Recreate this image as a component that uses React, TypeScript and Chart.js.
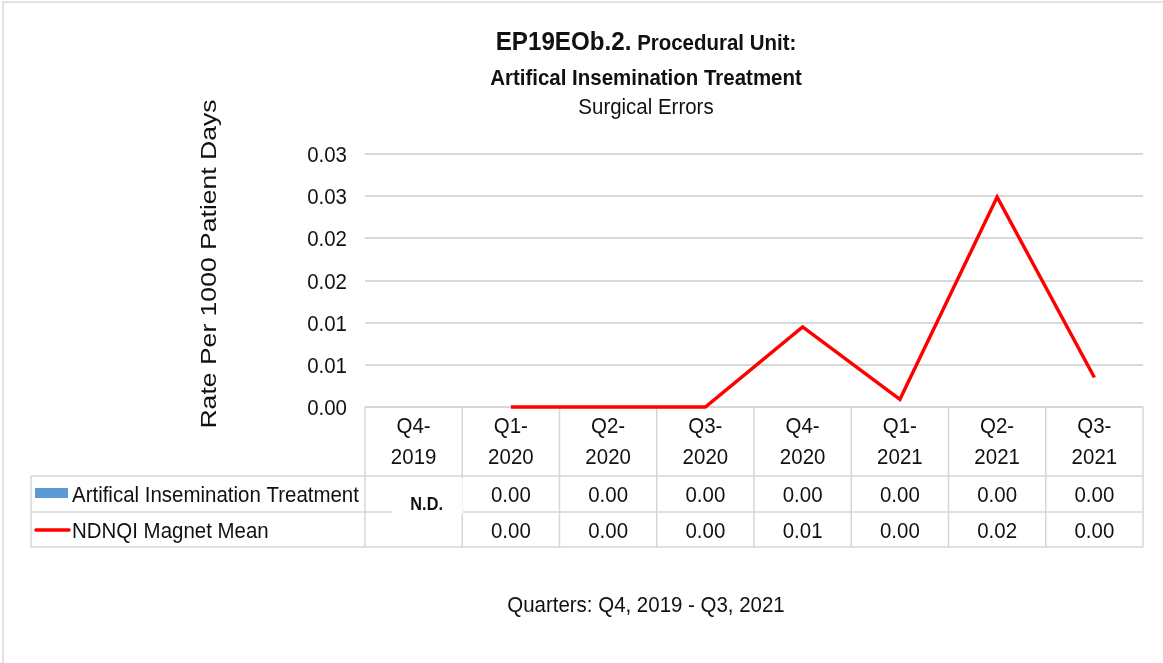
import React, { useEffect, useRef } from "react";
import { Chart, registerables } from "chart.js";

Chart.register(...registerables);

const categories = ["Q4-2019", "Q1-2020", "Q2-2020", "Q3-2020", "Q4-2020", "Q1-2021", "Q2-2021", "Q3-2021"];
const treatmentValues: (number | null)[] = [null, 0, 0, 0, 0, 0, 0, 0];
const magnetMeanValues: (number | null)[] = [null, 0, 0, 0, 0.0095, 0.0009, 0.0249, 0.0035];
const seriesNames = ["Artifical Insemination Treatment", "NDNQI Magnet Mean"];
const yTickValues = [0, 0.005, 0.01, 0.015, 0.02, 0.025, 0.03];
const yTickLabels = ["0.00", "0.01", "0.01", "0.02", "0.02", "0.03", "0.03"];
const titleCode = "EP19EOb.2.";
const titleUnit = " Procedural Unit:";
const titleLine2 = "Artifical Insemination Treatment";
const titleLine3 = "Surgical Errors";
const yAxisTitle = "Rate Per 1000 Patient Days";
const xAxisTitle = "Quarters: Q4, 2019 - Q3, 2021";
const missingLabel = "N.D.";

const FONT = '"Liberation Sans", Arial, sans-serif';
const SX = 0.93;
const TEXT = "#111111";
const LINE = "#d6d6d6";

function font(size: number, bold = false) {
  return `${bold ? "bold " : ""}${size}px ${FONT}`;
}

function txt(
  ctx: CanvasRenderingContext2D,
  s: string,
  x: number,
  y: number,
  size: number,
  opts: { bold?: boolean; align?: CanvasTextAlign; sx?: number; rot?: number } = {}
) {
  ctx.save();
  ctx.translate(x, y);
  if (opts.rot) ctx.rotate(opts.rot);
  ctx.scale(opts.sx ?? SX, 1);
  ctx.font = font(size, opts.bold);
  ctx.fillStyle = TEXT;
  ctx.textAlign = opts.align ?? "center";
  ctx.textBaseline = "alphabetic";
  ctx.fillText(s, 0, 0);
  ctx.restore();
}

function tableGeom(chart: any) {
  const xs = chart.scales.x;
  const area = chart.chartArea;
  const half = (xs.getPixelForValue(1) - xs.getPixelForValue(0)) / 2;
  const left = xs.getPixelForValue(0) - half;
  const right = xs.getPixelForValue(categories.length - 1) + half;
  const top = area.bottom;
  const hdrBottom = top + 69;
  const r1Bottom = hdrBottom + 36;
  const r2Bottom = r1Bottom + 35;
  return { xs, area, half, left, right, top, hdrBottom, r1Bottom, r2Bottom, legLeft: 31 };
}

const decorPlugin = {
  id: "decor",
  beforeDraw(chart: any) {
    const ctx: CanvasRenderingContext2D = chart.ctx;
    ctx.save();
    ctx.fillStyle = "#ffffff";
    ctx.fillRect(0, 0, chart.width, chart.height);
    ctx.strokeStyle = "#e2e2e2";
    ctx.lineWidth = 2;
    ctx.strokeRect(3, 2, chart.width + 20, chart.height + 20);
    ctx.restore();
  },
  beforeDatasetsDraw(chart: any) {
    const ctx: CanvasRenderingContext2D = chart.ctx;
    const g = tableGeom(chart);
    ctx.save();
    ctx.strokeStyle = LINE;
    ctx.lineWidth = 1.5;
    ctx.beginPath();
    for (let i = 0; i <= categories.length; i++) {
      const bx = g.left + i * g.half * 2;
      ctx.moveTo(bx, g.top);
      ctx.lineTo(bx, g.r2Bottom);
    }
    ctx.moveTo(g.left, g.top);
    ctx.lineTo(g.right, g.top);
    [g.hdrBottom, g.r1Bottom, g.r2Bottom].forEach((yy) => {
      ctx.moveTo(g.legLeft, yy);
      ctx.lineTo(g.right, yy);
    });
    ctx.moveTo(g.legLeft, g.hdrBottom);
    ctx.lineTo(g.legLeft, g.r2Bottom);
    ctx.stroke();
    ctx.restore();
  },
  afterDraw(chart: any) {
    const ctx: CanvasRenderingContext2D = chart.ctx;
    const ys = chart.scales.y;
    const g = tableGeom(chart);
    const xs = g.xs;

    // Titles
    ctx.save();
    ctx.font = font(26, true);
    const w1 = ctx.measureText(titleCode).width * SX;
    ctx.font = font(22, true);
    const w2 = ctx.measureText(titleUnit).width * SX;
    ctx.restore();
    const tcx = 646;
    const start = tcx - (w1 + w2) / 2;
    txt(ctx, titleCode, start, 50, 26, { bold: true, align: "left" });
    txt(ctx, titleUnit, start + w1, 50, 22, { bold: true, align: "left" });
    txt(ctx, titleLine2, tcx, 85, 22, { bold: true });
    txt(ctx, titleLine3, tcx, 114, 22);

    // Y axis tick labels and title
    yTickValues.forEach((v, i) => {
      const py = ys.getPixelForValue(v);
      txt(ctx, yTickLabels[i], 347, py + 8, 22, { align: "right" });
    });
    txt(ctx, yAxisTitle, 216, 264, 22.5, { rot: -Math.PI / 2, sx: 1.18 });

    // Table text
    categories.forEach((c, i) => {
      const px = xs.getPixelForValue(i);
      const [q, yr] = c.split("-");
      txt(ctx, q + "-", px, g.top + 26, 22);
      txt(ctx, yr, px, g.top + 57, 22);
    });

    const rows = [treatmentValues, magnetMeanValues];
    const rowBase = [g.hdrBottom + 26, g.r1Bottom + 26];
    rows.forEach((vals, r) => {
      vals.forEach((v, i) => {
        if (v === null) {
          if (r === 0) {
            const px = xs.getPixelForValue(i);
            ctx.save();
            ctx.fillStyle = "#ffffff";
            ctx.fillRect(px - 21, g.hdrBottom + 2, 70, 36);
            ctx.restore();
            txt(ctx, missingLabel, px + 13, g.hdrBottom + 34, 17.5, { bold: true });
          }
          return;
        }
        txt(ctx, v.toFixed(2), xs.getPixelForValue(i), rowBase[r], 22);
      });
    });

    // Legend keys
    ctx.save();
    ctx.fillStyle = "#5b9bd5";
    ctx.fillRect(35, g.hdrBottom + 12, 33, 10);
    ctx.strokeStyle = "#ff0000";
    ctx.lineWidth = 3.5;
    ctx.lineCap = "round";
    ctx.beginPath();
    ctx.moveTo(36, g.r1Bottom + 18);
    ctx.lineTo(69, g.r1Bottom + 18);
    ctx.stroke();
    ctx.restore();
    txt(ctx, seriesNames[0], 72, rowBase[0], 22, { align: "left" });
    txt(ctx, seriesNames[1], 72, rowBase[1], 22, { align: "left" });

    // X axis title
    txt(ctx, xAxisTitle, tcx, 612, 22);
  },
};

export default function App() {
  const ref = useRef<HTMLCanvasElement | null>(null);
  useEffect(() => {
    if (!ref.current) return;
    const chart = new Chart(ref.current, {
      type: "bar",
      data: {
        labels: categories,
        datasets: [
          {
            type: "line",
            label: seriesNames[1],
            data: magnetMeanValues,
            borderColor: "#ff0000",
            backgroundColor: "#ff0000",
            borderWidth: 3.5,
            pointRadius: 0,
            tension: 0,
            spanGaps: false,
            clip: 6,
            order: 0,
          } as any,
          {
            type: "bar",
            label: seriesNames[0],
            data: treatmentValues,
            backgroundColor: "#5b9bd5",
            borderWidth: 0,
            order: 1,
          },
        ],
      },
      options: {
        responsive: false,
        animation: false,
        devicePixelRatio: 1,
        layout: { padding: { left: 365, right: 20, top: 154, bottom: 256 } },
        plugins: { legend: { display: false }, title: { display: false }, tooltip: { enabled: false } },
        scales: {
          x: { display: false, offset: true },
          y: {
            min: 0,
            max: 0.03,
            ticks: { display: false, stepSize: 0.005 },
            grid: { color: "#d9d9d9", lineWidth: 2, drawTicks: false },
            border: { display: false },
            afterFit: (s: any) => {
              s.width = 0;
            },
          },
        },
      },
      plugins: [decorPlugin],
    });
    return () => chart.destroy();
  }, []);
  return (
    <div style={{ position: "absolute", left: 0, top: 0, width: 1163, height: 663 }}>
      <canvas ref={ref} width={1163} height={663} style={{ display: "block" }} />
    </div>
  );
}
